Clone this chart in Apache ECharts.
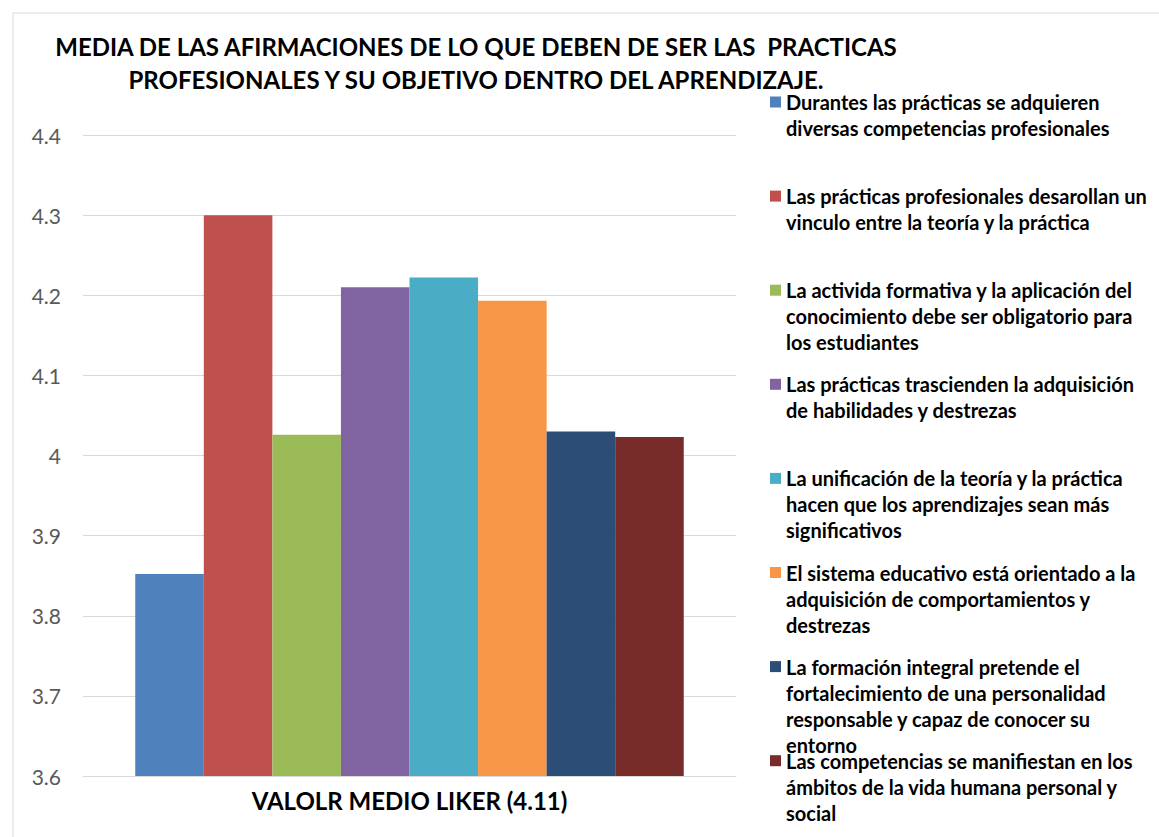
<!DOCTYPE html>
<html>
<head>
<meta charset="utf-8">
<script src="https://cdn.jsdelivr.net/npm/echarts@6/dist/echarts.min.js"></script>
<style>
html,body{margin:0;padding:0;background:#fff;}
#chart{width:1159px;height:837px;}
</style>
</head>
<body>
<div id="chart"></div>
<script>
const titleLines = [
  'MEDIA DE LAS AFIRMACIONES DE LO QUE DEBEN DE SER LAS  PRACTICAS',
  'PROFESIONALES Y SU OBJETIVO DENTRO DEL APRENDIZAJE.'
];
const categories = ['VALOLR MEDIO LIKER (4.11)'];
const seriesNames = [
  'Durantes las prácticas se adquieren\ndiversas competencias profesionales',
  'Las prácticas profesionales desarollan un\nvinculo entre la teoría y la práctica',
  'La activida formativa y la aplicación del\nconocimiento debe ser obligatorio para\nlos estudiantes',
  'Las prácticas trascienden la adquisición\nde habilidades y destrezas',
  'La unificación de la teoría y la práctica\nhacen que los aprendizajes sean más\nsignificativos',
  'El sistema educativo está orientado a la\nadquisición de comportamientos y\ndestrezas',
  'La formación integral pretende el\nfortalecimiento de una personalidad\nresponsable y capaz de conocer su\nentorno',
  'Las competencias se manifiestan en los\námbitos de la vida humana personal y\nsocial'
];
const values = [3.852, 4.300, 4.026, 4.210, 4.222, 4.193, 4.030, 4.023];
const colors = ['#4F81BD', '#C0504D', '#9BBB59', '#8064A2', '#4BACC6', '#F79646', '#2C4D75', '#772C2A'];
const yRange = [3.6, 4.4];
const yStep = 0.1;

const chart = echarts.init(document.getElementById('chart'), null, {renderer: 'svg'});

const LH = 26;
const legends = seriesNames.map(function (name, i) {
  const n = name.split('\n').length;
  const firstLineY = 102 + 94.1 * i;
  return {
    data: [name],
    orient: 'vertical',
    left: 770,
    top: firstLineY - (LH / 2) * (2 * n - 1),
    padding: 0,
    itemWidth: 11,
    itemHeight: 11,
    icon: 'rect',
    selectedMode: false,
    formatter: function (nm) {
      // blank lines above so the icon sits beside the first text line
      return new Array(n).join('\n') + nm;
    },
    textStyle: {
      fontFamily: 'Lato',
      fontWeight: 'bold',
      fontSize: 20,
      color: '#000',
      lineHeight: LH
    }
  };
});

const series = seriesNames.map(function (name, i) {
  return {
    type: 'bar',
    name: name,
    data: [values[i]],
    barGap: '0%',
    barCategoryGap: '16%',
    itemStyle: {color: colors[i]},
    emphasis: {disabled: true}
  };
});

chart.setOption({
  animation: false,
  backgroundColor: '#fff',
  color: colors,
  title: {
    text: titleLines.join('\n'),
    left: 476,
    top: 30,
    padding: 0,
    textAlign: 'center',
    textStyle: {
      fontFamily: 'Lato',
      fontWeight: 'bold',
      fontSize: 24,
      lineHeight: 33,
      color: '#000'
    }
  },
  graphic: [{
    type: 'rect',
    shape: {x: 13, y: 13, width: 1200, height: 900},
    style: {fill: 'none', stroke: '#d9d9d9', lineWidth: 1},
    silent: true,
    z: -10
  }],
  legend: legends,
  grid: {left: 83, right: 423, top: 135, bottom: 61, containLabel: false},
  xAxis: {
    type: 'category',
    data: categories,
    axisLine: {show: true, lineStyle: {color: '#d9d9d9'}},
    axisTick: {show: false},
    axisLabel: {
      margin: 12,
      fontFamily: 'Lato',
      fontWeight: 'bold',
      fontSize: 24,
      color: '#000'
    }
  },
  yAxis: {
    type: 'value',
    min: yRange[0],
    max: yRange[1],
    interval: yStep,
    axisLine: {show: false},
    axisTick: {show: false},
    splitLine: {lineStyle: {color: '#d9d9d9', width: 1}},
    axisLabel: {
      margin: 22,
      fontFamily: 'Lato',
      fontSize: 21,
      color: '#595959'
    }
  },
  series: series
});
</script>
</body>
</html>
